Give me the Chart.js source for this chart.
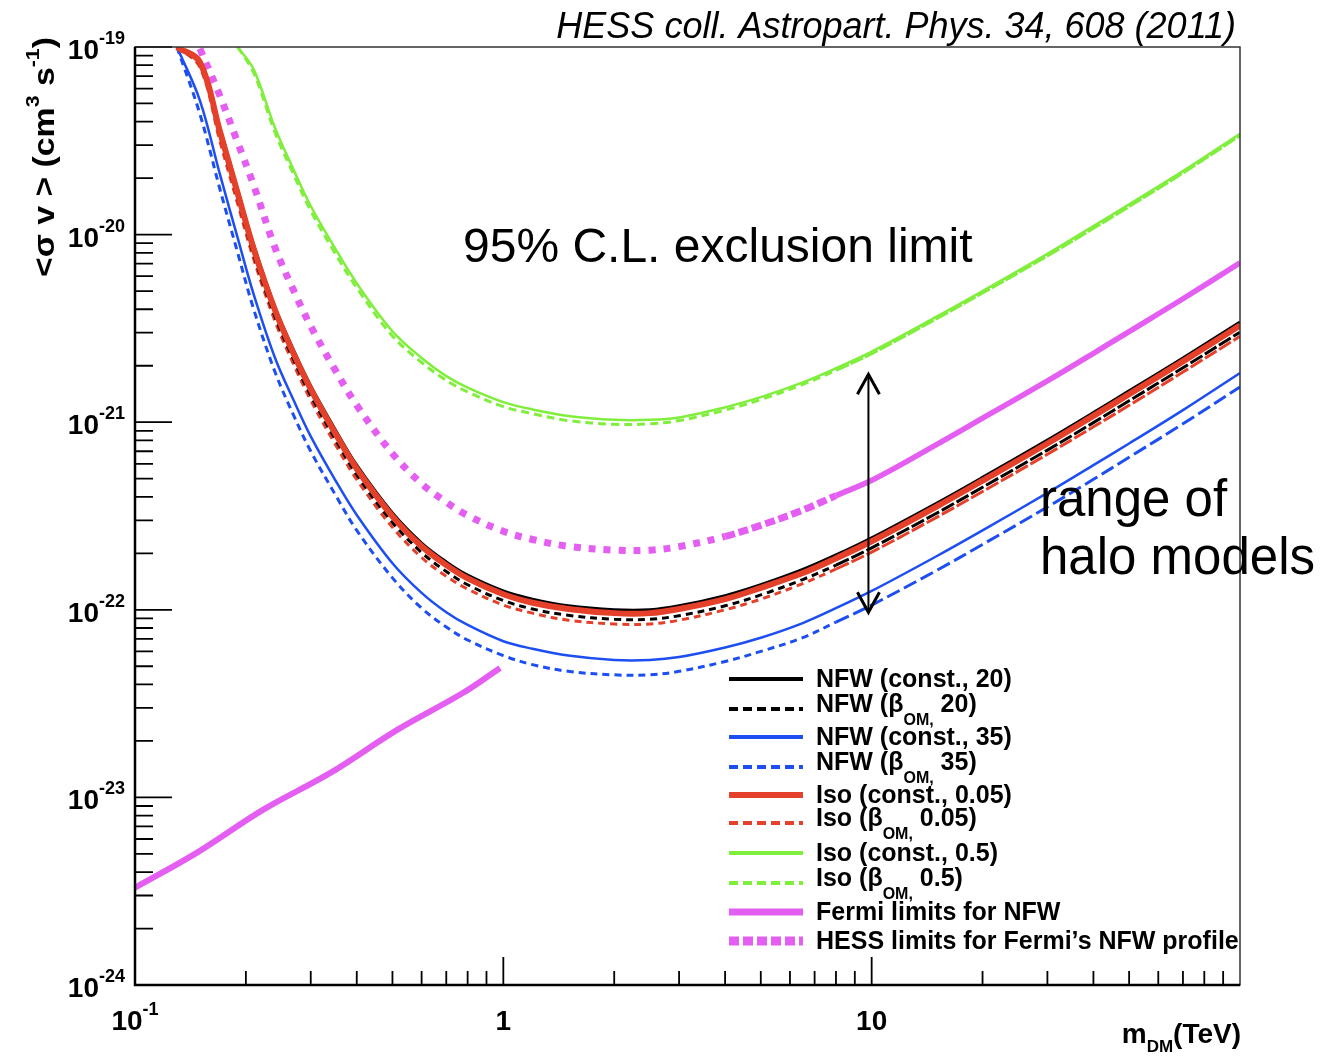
<!DOCTYPE html>
<html>
<head>
<meta charset="utf-8">
<title>DM annihilation limits</title>
<script src="https://cdn.jsdelivr.net/npm/chart.js@4.4.0/dist/chart.umd.min.js"></script>
<style>
  html, body { margin: 0; padding: 0; background: #fff; }
  canvas { display: block; }
</style>
</head>
<body>
<canvas id="limits" width="1324" height="1057"></canvas>
<script>
// dark matter mass grid (TeV) shared by the HESS limit curves
const massTeV = [0.13, 0.15, 0.17, 0.19, 0.21, 0.24, 0.27, 0.3, 0.35, 0.4, 0.5, 0.6, 0.7, 0.8, 1, 1.2, 1.5, 2, 2.5, 3, 4, 5, 6.5, 8, 10, 15, 20, 30, 40, 50, 70, 100];

// <sigma v> upper limits (cm^3 s^-1), one array per halo model
const nfwConst20 = [1.0e-19, 8.5e-20, 3.7e-20, 1.73e-20, 8.8e-21, 4.1e-21, 2.4e-21, 1.56e-21, 9.1e-22, 5.9e-22, 3.28e-22, 2.27e-22, 1.8e-22, 1.53e-22, 1.26e-22, 1.14e-22, 1.05e-22, 1.0e-22, 1.0e-22, 1.05e-22, 1.19e-22, 1.36e-22, 1.64e-22, 1.96e-22, 2.42e-22, 3.7e-22, 5.08e-22, 8.03e-22, 1.125e-21, 1.47e-21, 2.2e-21, 3.42e-21];
const nfwBeta20 = [1.0e-19, 8.0e-20, 3.35e-20, 1.55e-20, 7.8e-21, 3.65e-21, 2.14e-21, 1.39e-21, 8.1e-22, 5.25e-22, 2.92e-22, 2.02e-22, 1.6e-22, 1.36e-22, 1.12e-22, 1.01e-22, 9.35e-23, 8.9e-23, 8.9e-23, 9.3e-23, 1.05e-22, 1.2e-22, 1.45e-22, 1.73e-22, 2.14e-22, 3.27e-22, 4.5e-22, 7.1e-22, 9.95e-22, 1.3e-21, 1.95e-21, 3.02e-21];
const nfwConst35 = [1.0e-19, 5.2e-20, 2.1e-20, 9.6e-21, 4.8e-21, 2.2e-21, 1.3e-21, 8.4e-22, 4.9e-22, 3.2e-22, 1.77e-22, 1.23e-22, 9.7e-23, 8.3e-23, 6.8e-23, 6.2e-23, 5.7e-23, 5.4e-23, 5.4e-23, 5.6e-23, 6.3e-23, 7.1e-23, 8.5e-23, 1.02e-22, 1.26e-22, 1.93e-22, 2.65e-22, 4.2e-22, 5.9e-22, 7.7e-22, 1.16e-21, 1.83e-21];
const nfwBeta35 = [1.0e-19, 4.4e-20, 1.75e-20, 8.0e-21, 4.0e-21, 1.85e-21, 1.08e-21, 7.0e-22, 4.1e-22, 2.65e-22, 1.48e-22, 1.02e-22, 8.1e-23, 6.9e-23, 5.7e-23, 5.1e-23, 4.7e-23, 4.5e-23, 4.5e-23, 4.7e-23, 5.3e-23, 6.0e-23, 7.1e-23, 8.6e-23, 1.06e-22, 1.62e-22, 2.23e-22, 3.53e-22, 4.96e-22, 6.5e-22, 9.8e-22, 1.54e-21];
const isoConst005 = [1.0e-19, 8.3e-20, 3.55e-20, 1.66e-20, 8.4e-21, 3.95e-21, 2.3e-21, 1.5e-21, 8.7e-22, 5.65e-22, 3.15e-22, 2.18e-22, 1.73e-22, 1.47e-22, 1.21e-22, 1.09e-22, 1.01e-22, 9.6e-23, 9.6e-23, 1.01e-22, 1.14e-22, 1.31e-22, 1.57e-22, 1.88e-22, 2.32e-22, 3.55e-22, 4.88e-22, 7.7e-22, 1.08e-21, 1.41e-21, 2.11e-21, 3.28e-21];
const isoBeta005 = [1.0e-19, 7.8e-20, 3.15e-20, 1.46e-20, 7.4e-21, 3.45e-21, 2.02e-21, 1.31e-21, 7.6e-22, 4.95e-22, 2.75e-22, 1.9e-22, 1.51e-22, 1.29e-22, 1.06e-22, 9.6e-23, 8.8e-23, 8.4e-23, 8.4e-23, 8.8e-23, 1.0e-22, 1.14e-22, 1.38e-22, 1.65e-22, 2.03e-22, 3.11e-22, 4.27e-22, 6.75e-22, 9.45e-22, 1.23e-21, 1.85e-21, 2.87e-21];
const isoConst05 = [null, null, null, 1.0e-19, 7.6e-20, 3.7e-20, 2.2e-20, 1.42e-20, 8.4e-21, 5.5e-21, 3.05e-21, 2.2e-21, 1.76e-21, 1.53e-21, 1.28e-21, 1.17e-21, 1.08e-21, 1.03e-21, 1.03e-21, 1.06e-21, 1.2e-21, 1.36e-21, 1.63e-21, 1.94e-21, 2.38e-21, 3.65e-21, 5.0e-21, 7.9e-21, 1.11e-20, 1.45e-20, 2.18e-20, 3.45e-20];
const isoBeta05 = [null, null, null, 1.0e-19, 7.3e-20, 3.5e-20, 2.08e-20, 1.34e-20, 7.9e-21, 5.2e-21, 2.88e-21, 2.08e-21, 1.67e-21, 1.45e-21, 1.21e-21, 1.11e-21, 1.02e-21, 9.75e-22, 9.8e-22, 1.02e-21, 1.16e-21, 1.32e-21, 1.59e-21, 1.89e-21, 2.32e-21, 3.56e-21, 4.88e-21, 7.7e-21, 1.08e-20, 1.41e-20, 2.13e-20, 3.37e-20];
const hessFermiNfw = [null, 9.8e-20, 5.5e-20, 3.1e-20, 1.83e-20, 8.5e-21, 5.0e-21, 3.25e-21, 1.89e-21, 1.23e-21, 6.8e-22, 4.7e-22, 3.75e-22, 3.18e-22, 2.62e-22, 2.37e-22, 2.18e-22, 2.08e-22, 2.08e-22, 2.17e-22, 2.46e-22, 2.82e-22, 3.4e-22, 4.06e-22, 4.9e-22, 7.6e-22, 1.05e-21, 1.66e-21, 2.33e-21, 3.04e-21, 4.55e-21, 7.08e-21];

// Fermi dwarf limit, own mass points
const fermiMassTeV = [0.1, 0.147, 0.223, 0.339, 0.515, 0.776, 0.98];
const fermiNfw = [3.3e-24, 5.06e-24, 8.6e-24, 1.35e-23, 2.29e-23, 3.6e-23, 4.9e-23];

// axis decades
const yDecades = [-19, -20, -21, -22, -23, -24];
const xLabelTicks = [0.1, 1, 10];
const xLabelText = [['10', '-1'], ['1', ''], ['10', '']];

// double arrow marking the spread of halo models
const arrowMass = 9.8;
const arrowSpan = [1.8e-21, 9.7e-23];

const BLACK = '#000000';
const BLUE = '#1d4ef2';
const RED = '#e5402a';
const GREEN = '#80ee3c';
const MAGENTA = '#e45ef2';
const FONT = '"Liberation Sans", Arial, Helvetica, sans-serif';

const series = (ys, xs = massTeV) => xs.map((m, i) => ({ x: m, y: ys[i] }));

// segment style switching with mass, [[fromMass, value], ...]
function byMass(steps) {
  return ctx => {
    const m = ctx.p0.parsed.x;
    let v = steps[0][1];
    for (const [from, p] of steps) if (m >= from) v = p;
    return v;
  };
}

const datasets = [
  { label: 'NFW (const., 20)', data: series(nfwConst20), borderColor: BLACK, borderWidth: 3, order: 4 },
  { label: 'NFW (βOM, 20)', data: series(nfwBeta20), borderColor: BLACK, borderWidth: 3, order: 2,
    borderDash: [7, 5], segment: { borderDash: byMass([[0, [7, 5]], [8, [14, 3]]]) } },
  { label: 'NFW (const., 35)', data: series(nfwConst35), borderColor: BLUE, borderWidth: 2.5, order: 6 },
  { label: 'NFW (βOM, 35)', data: series(nfwBeta35), borderColor: BLUE, borderWidth: 3, order: 5,
    borderDash: [7, 5], segment: { borderDash: byMass([[0, [7, 5]], [8, [14, 5]]]) } },
  { label: 'Iso (const., 0.05)', data: series(isoConst005), borderColor: RED, borderWidth: 6, order: 1 },
  { label: 'Iso (βOM, 0.05)', data: series(isoBeta005), borderColor: RED, borderWidth: 3, order: 3,
    borderDash: [7, 5], segment: { borderDash: byMass([[0, [7, 5]], [8, [14, 3]]]) } },
  { label: 'Iso (const., 0.5)', data: series(isoConst05), borderColor: GREEN, borderWidth: 2.5, order: 9 },
  { label: 'Iso (βOM, 0.5)', data: series(isoBeta05), borderColor: GREEN, borderWidth: 3, order: 8,
    borderDash: [8, 5], segment: { borderDash: byMass([[0, [8, 5]], [8, [14, 2]]]) } },
  { label: 'Fermi limits for NFW', data: series(fermiNfw, fermiMassTeV), borderColor: MAGENTA, borderWidth: 6, order: 0 },
  { label: "HESS limits for Fermi's NFW profile", data: series(hessFermiNfw), borderColor: MAGENTA, borderWidth: 7, order: 7,
    borderDash: [7, 8],
    segment: {
      borderDash: byMass([[0, [7, 8]], [4, [10, 4]], [8, []]]),
      borderWidth: byMass([[0, 7], [8, 5.5]])
    } }
];

// legend rows: sample style + rich text parts
const legendRows = [
  { ds: 0, w: 4, dash: [], parts: [['NFW (const., 20)']] },
  { ds: 1, w: 4, dash: [9, 5], parts: [['NFW (β'], ['OM,', 'sub'], [' 20)']] },
  { ds: 2, w: 4, dash: [], parts: [['NFW (const., 35)']] },
  { ds: 3, w: 4, dash: [9, 5], parts: [['NFW (β'], ['OM,', 'sub'], [' 35)']] },
  { ds: 4, w: 6, dash: [], parts: [['Iso (const., 0.05)']] },
  { ds: 5, w: 4, dash: [9, 5], parts: [['Iso (β'], ['OM,', 'sub'], [' 0.05)']] },
  { ds: 6, w: 4, dash: [], parts: [['Iso (const., 0.5)']] },
  { ds: 7, w: 4, dash: [9, 5], parts: [['Iso (β'], ['OM,', 'sub'], [' 0.5)']] },
  { ds: 8, w: 7, dash: [], parts: [['Fermi limits for NFW']] },
  { ds: 9, w: 9, dash: [10, 4], parts: [['HESS limits for Fermi\u2019s NFW profile']] }
];
const legendLineY = [679, 709, 737, 767, 795, 823, 853, 883, 912, 941];

// draws [text, kind] pieces in a row; kind: 'sub' | 'sup'
function drawRich(ctx, x, y, parts, base, small, align, shift) {
  const pieces = parts.map(([t, kind]) => {
    const font = kind ? small : base;
    ctx.font = font;
    return { t, font, w: ctx.measureText(t).width, dy: kind === 'sub' ? shift.sub : kind === 'sup' ? shift.sup : 0 };
  });
  const total = pieces.reduce((s, p) => s + p.w, 0);
  let cx = align === 'right' ? x - total : align === 'center' ? x - total / 2 : x;
  for (const p of pieces) {
    ctx.font = p.font;
    ctx.fillText(p.t, cx, y + p.dy);
    cx += p.w;
  }
  return total;
}

function measureRich(ctx, parts, base, small) {
  return parts.reduce((s, [t, kind]) => {
    ctx.font = kind ? small : base;
    return s + ctx.measureText(t).width;
  }, 0);
}

const frameAxes = {
  id: 'frameAxes',
  afterDatasetsDraw(chart) {
    const { ctx, chartArea: a, scales: { x, y } } = chart;
    ctx.save();
    ctx.strokeStyle = BLACK;
    ctx.fillStyle = BLACK;
    ctx.textAlign = 'left';
    ctx.textBaseline = 'alphabetic';

    // y ticks: decades long, 2..9 short
    ctx.lineWidth = 1.8;
    ctx.beginPath();
    for (let d = -24; d <= -19; d++) {
      const py = y.getPixelForValue(Math.pow(10, d));
      ctx.moveTo(a.left, py); ctx.lineTo(a.left + 37, py);
      if (d < -19) {
        for (let k = 2; k <= 9; k++) {
          const pk = y.getPixelForValue(k * Math.pow(10, d));
          ctx.moveTo(a.left, pk); ctx.lineTo(a.left + 18, pk);
        }
      }
    }
    // x ticks
    for (let d = -1; d <= 1; d++) {
      const px = x.getPixelForValue(Math.pow(10, d));
      ctx.moveTo(px, a.bottom); ctx.lineTo(px, a.bottom - 28);
      for (let k = 2; k <= 9; k++) {
        const pk = x.getPixelForValue(k * Math.pow(10, d));
        ctx.moveTo(pk, a.bottom); ctx.lineTo(pk, a.bottom - 14);
      }
    }
    ctx.stroke();

    // frame
    ctx.lineWidth = 1.5;
    ctx.strokeStyle = '#333';
    ctx.strokeRect(a.left, a.top, a.right - a.left, a.bottom - a.top);
    ctx.strokeStyle = BLACK;
    ctx.lineWidth = 2.5;
    ctx.beginPath();
    ctx.moveTo(a.left, a.top); ctx.lineTo(a.left, a.bottom); ctx.lineTo(a.right, a.bottom);
    ctx.stroke();

    // tick labels
    const base = `bold 28px ${FONT}`;
    const small = `bold 18px ${FONT}`;
    yDecades.forEach(d => {
      const py = y.getPixelForValue(Math.pow(10, d));
      drawRich(ctx, 125, py + 12, [['10'], [String(d), 'sup']], base, small, 'right', { sup: -15 });
    });
    xLabelTicks.forEach((v, i) => {
      const px = x.getPixelForValue(v);
      const [main, sup] = xLabelText[i];
      const parts = sup ? [[main], [sup, 'sup']] : [[main]];
      drawRich(ctx, px, 1030, parts, base, small, 'center', { sup: -15 });
    });

    // axis titles
    drawRich(ctx, 1241, 1043, [['m'], ['DM', 'sub'], ['(TeV)']], base, `bold 17px ${FONT}`, 'right', { sub: 9 });

    const yTitle = [['<σ v > (cm'], ['3', 'sup'], [' s'], ['-1', 'sup'], [')']];
    const tBase = `bold 30px ${FONT}`;
    const tSmall = `bold 19px ${FONT}`;
    const len = measureRich(ctx, yTitle, tBase, tSmall);
    ctx.save();
    ctx.translate(54, 277);
    ctx.rotate(-Math.PI / 2);
    ctx.scale(240 / len, 1);
    drawRich(ctx, 0, 0, yTitle, tBase, tSmall, 'left', { sup: -15 });
    ctx.restore();

    ctx.restore();
  }
};

const notes = {
  id: 'notes',
  afterDraw(chart) {
    const { ctx, scales: { x, y } } = chart;
    ctx.save();
    ctx.fillStyle = BLACK;
    ctx.textBaseline = 'alphabetic';

    // legend
    legendRows.forEach((row, i) => {
      const ds = chart.data.datasets[row.ds];
      const ly = legendLineY[i];
      ctx.strokeStyle = ds.borderColor;
      ctx.lineWidth = row.w;
      ctx.lineCap = 'butt';
      ctx.setLineDash(row.dash);
      ctx.beginPath();
      ctx.moveTo(729, ly); ctx.lineTo(803, ly);
      ctx.stroke();
      ctx.setLineDash([]);
      const hasSub = row.parts.length > 1;
      drawRich(ctx, 816, ly + (hasSub ? 3 : 8), row.parts, `bold 25px ${FONT}`, `bold 16px ${FONT}`, 'left', { sub: 13 });
    });

    // reference and annotations
    ctx.textAlign = 'right';
    ctx.font = `italic 36px ${FONT}`;
    ctx.fillText('HESS coll. Astropart. Phys. 34, 608 (2011)', 1236, 38);
    ctx.textAlign = 'left';
    ctx.font = `48px ${FONT}`;
    ctx.fillText('95% C.L. exclusion limit', 463, 262);
    ctx.font = `51px ${FONT}`;
    ctx.fillText('range of', 1040, 516);
    ctx.fillText('halo models', 1040, 574);

    // double arrow
    const ax = x.getPixelForValue(arrowMass);
    const yTop = y.getPixelForValue(arrowSpan[0]);
    const yBot = y.getPixelForValue(arrowSpan[1]);
    ctx.strokeStyle = BLACK;
    ctx.lineWidth = 2;
    ctx.beginPath();
    ctx.moveTo(ax, yTop + 1); ctx.lineTo(ax, yBot - 1);
    ctx.stroke();
    ctx.lineWidth = 3;
    ctx.lineJoin = 'miter';
    ctx.beginPath();
    ctx.moveTo(ax - 11, yTop + 20); ctx.lineTo(ax, yTop); ctx.lineTo(ax + 11, yTop + 20);
    ctx.moveTo(ax - 11, yBot - 20); ctx.lineTo(ax, yBot); ctx.lineTo(ax + 11, yBot - 20);
    ctx.stroke();
    ctx.restore();
  }
};

new Chart(document.getElementById('limits'), {
  type: 'line',
  data: { datasets },
  options: {
    responsive: false,
    animation: false,
    devicePixelRatio: 1,
    events: [],
    layout: { padding: { left: 135, right: 84, top: 47, bottom: 72 } },
    scales: {
      x: { type: 'logarithmic', min: 0.1, max: 100, display: false },
      y: { type: 'logarithmic', min: 1e-24, max: 1e-19, display: false }
    },
    elements: {
      point: { radius: 0 },
      line: { tension: 0.35, borderCapStyle: 'butt', fill: false }
    },
    plugins: { legend: { display: false }, tooltip: { enabled: false } }
  },
  plugins: [frameAxes, notes]
});
</script>
</body>
</html>
